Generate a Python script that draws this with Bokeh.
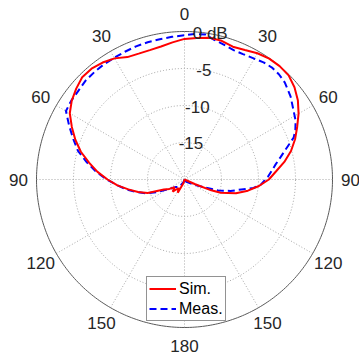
import numpy as np
from bokeh.plotting import figure
from bokeh.models import Range1d, Legend, LegendItem
from bokeh.core.properties import value
from bokeh.embed import file_html
from bokeh.resources import INLINE

# ---------------- data ----------------
ang_sim = [-180, -165, -153, -145, -136, -128, -122, -116, -110, -105, -100, -95, -90, -85,
           -80, -75, -70, -65, -60, -55, -50, -45, -40, -35, -30, -25, -20, -15, -10, -5,
           0, 5, 10, 15, 20, 25, 30, 35, 40, 45, 50, 55, 60, 65, 70, 75, 80, 85, 90, 95,
           100, 105, 110, 112, 114, 118, 140, 180]
sim_db = [-20, -19.5, -18.0, -18.6, -17.7, -18.3, -17.6, -16.9, -14.7, -13.5, -12.3, -10.9,
          -9.6, -8.2, -6.9, -5.5, -4.3, -3.2, -2.1, -1.4, -0.9, -0.45, -0.45, -0.7, -1.1,
          -1.75, -1.9, -1.9, -1.75, -1.4, -1.0, -0.8, -0.55, -0.6, -0.9, -0.7, -0.3, -0.05,
          0.0, -0.1, -0.6, -1.3, -2.2, -3.2, -4.1, -5.1, -6.3, -7.6, -8.6, -9.9, -11.3,
          -12.8, -14.8, -16.1, -18.5, -20, -20, -20]

ang_meas = [-180, -160, -145, -130, -120, -115, -110, -105, -100, -95, -90, -85, -80, -75,
            -70, -65, -60, -55, -50, -45, -40, -35, -30, -25, -20, -15, -10, -5, 0, 4, 8,
            12, 16, 21, 25, 30, 34, 38, 42, 46, 52, 58, 62, 66, 69, 74, 77, 81, 84, 88, 94,
            97, 100, 104, 108, 114, 120, 140, 180]
meas_db = [-20, -19.6, -18.8, -18.4, -17.3, -16.0, -14.5, -13.4, -12.1, -10.9, -9.5, -8.0,
           -6.6, -5.1, -4.0, -2.8, -1.5, -1.35, -1.3, -1.1, -1.05, -1.0, -1.0, -0.95, -0.85,
           -0.8, -0.75, -0.65, -0.5, -0.3, -0.2, -0.7, -1.0, -1.3, -1.3, -1.15, -0.9, -0.8,
           -0.9, -1.15, -1.8, -2.6, -3.0, -3.6, -4.2, -5.9, -6.7, -7.6, -8.1, -8.7, -9.7,
           -10.6, -12.2, -13.6, -15.2, -17.8, -18.8, -19.6, -20]

angle_ticks = [0, 30, 60, 90, 120, 150, 180, -150, -120, -90, -60, -30]
angle_labels = ["0", "30", "60", "90", "120", "150", "180", "150", "120", "90", "60", "30"]
r_ticks = [-15, -10, -5, 0]
r_labels = ["-15", "-10", "-5", "0 dB"]
series_names = ["Sim.", "Meas."]

# ---------------- geometry ----------------
R = 148.0          # outer radius (screen px)
RMIN, RMAX = -20.0, 0.0

def rad(db):
    return (np.clip(np.asarray(db, float), RMIN, RMAX) - RMIN) / (RMAX - RMIN) * R

def xy(ang, db):
    t = np.deg2rad(np.asarray(ang, float))
    r = rad(db)
    return r * np.sin(t), r * np.cos(t)

p = figure(width=359, height=355, x_range=Range1d(-184, 175), y_range=Range1d(-176, 179),
           output_backend="svg", toolbar_location=None, min_border=0,
           x_axis_type=None, y_axis_type=None)
p.grid.visible = False
p.outline_line_color = None
p.background_fill_color = "white"
p.border_fill_color = "white"

grid_col = "#a8a8a8"
tt = np.linspace(0, 2 * np.pi, 361)
for rv in r_ticks[:-1]:
    rr = rad(rv)
    p.line(rr * np.cos(tt), rr * np.sin(tt), line_color=grid_col, line_width=1, line_dash="1 2")
for a in angle_ticks:
    t = np.deg2rad(a)
    p.line([0, R * np.sin(t)], [0, R * np.cos(t)], line_color=grid_col, line_width=1,
           line_dash="1 2")
p.line(R * np.cos(tt), R * np.sin(tt), line_color="#5a5a5a", line_width=1)

sx, sy = xy(ang_sim, sim_db)
mx, my = xy(ang_meas, meas_db)
r_meas = p.line(mx, my, line_color="#0000ff", line_width=2, line_dash="7 4")
r_sim = p.line(sx, sy, line_color="#ff0000", line_width=2)

# angle labels
LR = 166
ta = np.deg2rad(np.array(angle_ticks, float))
p.text(x=LR * np.sin(ta), y=LR * np.cos(ta), text=angle_labels,
       text_font=value("Liberation Sans"), text_font_size="17px", text_align="center",
       text_baseline="middle", text_color="#262626")

# radial labels
ra = np.deg2rad(10)
rr = rad(r_ticks)
p.text(x=rr * np.sin(ra), y=rr * np.cos(ra), text=r_labels,
       text_font=value("Liberation Sans"), text_font_size="17px", text_align="center",
       text_baseline="middle", text_color="#262626")

legend = Legend(items=[LegendItem(label=series_names[0], renderers=[r_sim]),
                       LegendItem(label=series_names[1], renderers=[r_meas])],
                location=(146, 34), padding=2, spacing=1, margin=0,
                glyph_width=27, glyph_height=19, label_height=19, label_standoff=3,
                label_text_font="Liberation Sans", label_text_font_size="16px",
                label_text_color="#000000", border_line_color="#262626",
                border_line_width=1, background_fill_color="white",
                background_fill_alpha=1.0)
p.add_layout(legend, "center")

open("out.html", "w").write(file_html(p, INLINE))
